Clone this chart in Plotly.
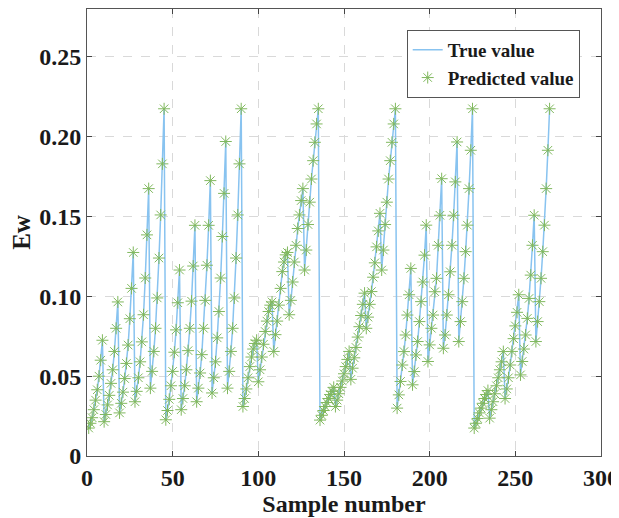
import plotly.graph_objects as go

# ---- data (6 blocks x 5 teeth x 9 samples) ----
block1 = [
    [0.0175, 0.0205, 0.0240, 0.0290, 0.0350, 0.0415, 0.0500, 0.0600, 0.0725],
    [0.0215, 0.0260, 0.0320, 0.0380, 0.0455, 0.0540, 0.0655, 0.0800, 0.0965],
    [0.0270, 0.0330, 0.0400, 0.0485, 0.0580, 0.0695, 0.0860, 0.1050, 0.1275],
    [0.0340, 0.0405, 0.0490, 0.0590, 0.0715, 0.0885, 0.1115, 0.1385, 0.1675],
    [0.0425, 0.0530, 0.0655, 0.0800, 0.0990, 0.1240, 0.1510, 0.1830, 0.2175],
]
block2 = [
    [0.0227, 0.0285, 0.0355, 0.0440, 0.0530, 0.0650, 0.0790, 0.0960, 0.1165],
    [0.0290, 0.0360, 0.0440, 0.0540, 0.0660, 0.0800, 0.0970, 0.1190, 0.1445],
    [0.0340, 0.0425, 0.0520, 0.0635, 0.0800, 0.0975, 0.1195, 0.1445, 0.1725],
    [0.0395, 0.0490, 0.0590, 0.0740, 0.0905, 0.1115, 0.1375, 0.1645, 0.1970],
    [0.0425, 0.0530, 0.0655, 0.0800, 0.0990, 0.1240, 0.1510, 0.1830, 0.2175],
]
block3 = [
    [0.0310, 0.0360, 0.0420, 0.0490, 0.0560, 0.0620, 0.0670, 0.0705, 0.0725],
    [0.0465, 0.0540, 0.0620, 0.0700, 0.0780, 0.0845, 0.0905, 0.0945, 0.0965],
    [0.0655, 0.0760, 0.0845, 0.0945, 0.1050, 0.1155, 0.1215, 0.1260, 0.1275],
    [0.0885, 0.0975, 0.1090, 0.1215, 0.1320, 0.1425, 0.1510, 0.1600, 0.1675],
    [0.1165, 0.1290, 0.1450, 0.1590, 0.1735, 0.1850, 0.1965, 0.2080, 0.2175],
]
block4 = [
    [0.0225, 0.0255, 0.0285, 0.0310, 0.0335, 0.0360, 0.0385, 0.0405, 0.0430],
    [0.0310, 0.0350, 0.0390, 0.0430, 0.0470, 0.0515, 0.0560, 0.0605, 0.0655],
    [0.0480, 0.0550, 0.0615, 0.0680, 0.0745, 0.0810, 0.0880, 0.0950, 0.1020],
    [0.0800, 0.0870, 0.0950, 0.1030, 0.1120, 0.1210, 0.1310, 0.1410, 0.1520],
    [0.1165, 0.1290, 0.1450, 0.1590, 0.1735, 0.1850, 0.1965, 0.2080, 0.2175],
]
block5 = [
    [0.0300, 0.0383, 0.0467, 0.0570, 0.0654, 0.0758, 0.0883, 0.1010, 0.1175],
    [0.0446, 0.0529, 0.0633, 0.0717, 0.0842, 0.0967, 0.1090, 0.1258, 0.1446],
    [0.0592, 0.0696, 0.0800, 0.0883, 0.1029, 0.1113, 0.1320, 0.1508, 0.1737],
    [0.0675, 0.0758, 0.0883, 0.1010, 0.1154, 0.1320, 0.1508, 0.1717, 0.1967],
    [0.0717, 0.0842, 0.0967, 0.1113, 0.1280, 0.1446, 0.1675, 0.1915, 0.2175],
]
block6 = [
    [0.0175, 0.0205, 0.0235, 0.0270, 0.0300, 0.0330, 0.0360, 0.0385, 0.0410],
    [0.0237, 0.0290, 0.0340, 0.0390, 0.0440, 0.0490, 0.0540, 0.0590, 0.0654],
    [0.0360, 0.0420, 0.0490, 0.0570, 0.0655, 0.0735, 0.0815, 0.0900, 0.1010],
    [0.0508, 0.0592, 0.0670, 0.0758, 0.0862, 0.0987, 0.1133, 0.1320, 0.1508],
    [0.0717, 0.0842, 0.0967, 0.1113, 0.1280, 0.1446, 0.1675, 0.1915, 0.2175],
]
blocks = [block1, block2, block3, block4, block5, block6]

true_value = [v for b in blocks for tooth in b for v in tooth]
predicted_value = list(true_value)
sample_number = list(range(1, len(true_value) + 1))

x_ticks = [0, 50, 100, 150, 200, 250, 300]
y_ticks = [0, 0.05, 0.10, 0.15, 0.20, 0.25]
y_tick_text = ["0", "0.05", "0.10", "0.15", "0.20", "0.25"]

FONT = "Liberation Serif"
TXT = "#1a1a1a"
GREEN = "#80b85e"
BLUE = "#88c3f0"

fig = go.Figure()
fig.add_trace(go.Scatter(
    x=sample_number, y=true_value, mode="lines", name="True value",
    line=dict(color=BLUE, width=1.5),
))
fig.add_trace(go.Scatter(
    x=sample_number, y=predicted_value, mode="markers", name="Predicted value",
    marker=dict(symbol="asterisk-open", size=10, color=GREEN,
                line=dict(color=GREEN, width=1)),
))

axis_common = dict(
    showline=True, linecolor="#555555", linewidth=1, mirror="ticks",
    ticks="inside", ticklen=5, tickcolor="#444444",
    showgrid=True, gridcolor="#d9d9d9", griddash="dash", gridwidth=1,
    zeroline=False, ticklabeloverflow="allow",
    tickfont=dict(family=FONT, size=24, color=TXT, weight="bold"),
)

# page body has an 8px margin, so the figure is sized to fill the rest
fig.update_layout(
    width=611, height=510,
    margin=dict(l=79, r=14, t=0, b=62),
    plot_bgcolor="white", paper_bgcolor="white",
    font=dict(family=FONT, color=TXT),
    xaxis=dict(range=[0, 300], tickvals=x_ticks,
               title=dict(text="Sample number", standoff=3,
                          font=dict(family=FONT, size=24, color=TXT, weight="bold")),
               **axis_common),
    yaxis=dict(range=[0, 0.28], tickvals=y_ticks, ticktext=y_tick_text,
               title=dict(text="Ew", standoff=6,
                          font=dict(family=FONT, size=25, color=TXT, weight="bold")),
               **axis_common),
    legend=dict(x=0.622, y=0.953, xanchor="left", yanchor="top",
                bgcolor="white", bordercolor="#555", borderwidth=1,
                font=dict(family=FONT, size=19, color=TXT, weight="bold"),
                tracegroupgap=0, itemwidth=30),
    showlegend=True,
)

fig.write_html("out.html")
